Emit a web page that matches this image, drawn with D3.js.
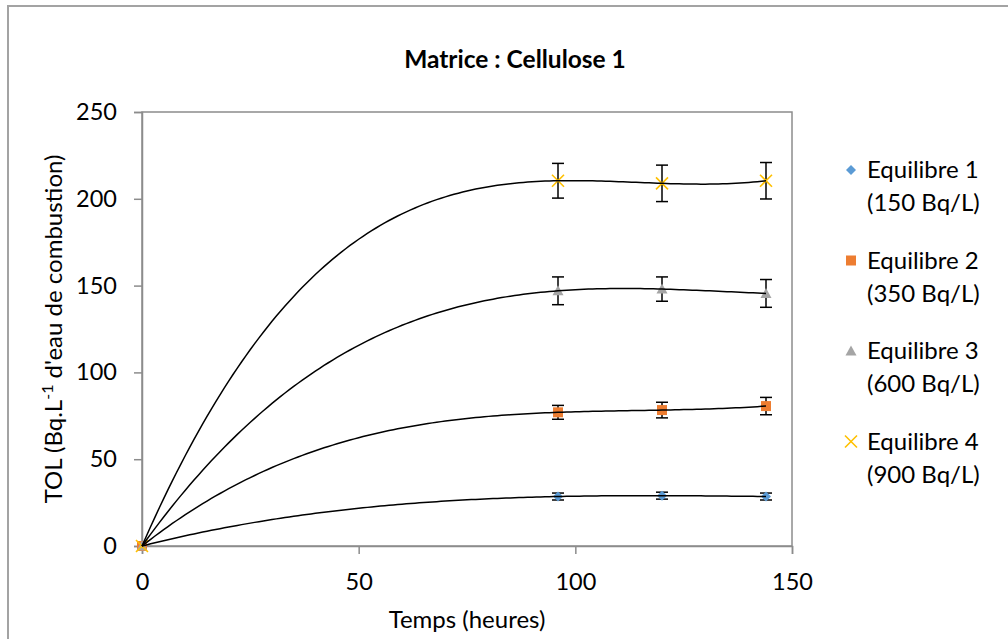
<!DOCTYPE html>
<html><head><meta charset="utf-8">
<script src="https://cdn.jsdelivr.net/npm/d3@7"></script>
<style>
body{margin:0;background:#fff;}
svg text{font-family:Lato,"Liberation Sans",sans-serif;fill:#000;}
</style></head>
<body><svg id="c" width="1008" height="639"></svg>
<script>
const title = "Matrice : Cellulose 1";
const xTitle = "Temps (heures)";
const time = [0, 96, 120, 144];
const eq1 = [0, 28.5, 29, 28.5];
const eq1Err = [0, 2, 2, 2];
const eq2 = [0, 77, 78.3, 80.6];
const eq2Err = [0, 4, 4.5, 5];
const eq3 = [0, 147, 148, 145.5];
const eq3Err = [0, 8, 7, 8];
const eq4 = [0, 210.4, 208.9, 210.4];
const eq4Err = [0, 10, 10.5, 10.5];
const seriesNames = ["Equilibre 1", "Equilibre 2", "Equilibre 3", "Equilibre 4"];
const seriesSub = ["(150 Bq/L)", "(350 Bq/L)", "(600 Bq/L)", "(900 Bq/L)"];
const xTicks = [0, 50, 100, 150];
const yTicks = [0, 50, 100, 150, 200, 250];

const colors = ["#5B9BD5", "#ED7D31", "#A5A5A5", "#FFC000"];
const series = [
  {v: eq1, e: eq1Err}, {v: eq2, e: eq2Err}, {v: eq3, e: eq3Err}, {v: eq4, e: eq4Err}
];

const svg = d3.select("#c");
const L = 142, R = 792, T = 112, B = 546;
const x = d3.scaleLinear().domain([0, 150]).range([L, R]);
const y = d3.scaleLinear().domain([0, 250]).range([B, T]);
const FS = 23.5;

// outer frame
svg.append("rect").attr("x", 8).attr("y", 6).attr("width", 1010).attr("height", 650)
  .attr("fill", "none").attr("stroke", "#a3a3a3").attr("stroke-width", 2);

// plot area border
svg.append("rect").attr("x", L).attr("y", T).attr("width", R - L).attr("height", B - T)
  .attr("fill", "none").attr("stroke", "#8c8c8c").attr("stroke-width", 1.5);

// axes
const gy = svg.append("g").attr("transform", `translate(${L},0)`)
  .call(d3.axisLeft(y).tickValues(yTicks).tickSize(8).tickPadding(17).tickFormat(d3.format("d")));
const gx = svg.append("g").attr("transform", `translate(0,${B})`)
  .call(d3.axisBottom(x).tickValues(xTicks).tickSize(8).tickPadding(19).tickFormat(d3.format("d")));
[gx, gy].forEach(g => {
  g.select(".domain").attr("stroke", "#8c8c8c").attr("stroke-width", 1.5);
  g.selectAll(".tick line").attr("stroke", "#8c8c8c").attr("stroke-width", 1.5);
  g.selectAll(".tick text").attr("font-size", FS).attr("font-family", "Lato").attr("fill", "#000");
});

// cubic polynomial trendline via least squares
function polyFit(xs, ys, deg) {
  const n = deg + 1;
  const A = Array.from({length: n}, () => new Array(n + 1).fill(0));
  for (let k = 0; k < xs.length; k++) {
    for (let i = 0; i < n; i++) {
      for (let j = 0; j < n; j++) A[i][j] += Math.pow(xs[k], i + j);
      A[i][n] += ys[k] * Math.pow(xs[k], i);
    }
  }
  for (let i = 0; i < n; i++) {
    let p = i;
    for (let r = i + 1; r < n; r++) if (Math.abs(A[r][i]) > Math.abs(A[p][i])) p = r;
    [A[i], A[p]] = [A[p], A[i]];
    for (let r = 0; r < n; r++) {
      if (r === i) continue;
      const f = A[r][i] / A[i][i];
      for (let c = i; c <= n; c++) A[r][c] -= f * A[i][c];
    }
  }
  return A.map((row, i) => row[n] / row[i]);
}

const sample = d3.range(0, 144.01, 1);
const line = d3.line().x(d => x(d[0])).y(d => y(d[1]));

const plot = svg.append("g");
series.forEach((s, si) => {
  time.forEach((t, i) => {
    if (!s.e[i]) return;
    const g = plot.append("g").attr("stroke", "#000").attr("stroke-width", 1.5);
    g.append("line").attr("x1", x(t)).attr("x2", x(t)).attr("y1", y(s.v[i] + s.e[i])).attr("y2", y(s.v[i] - s.e[i]));
    g.append("line").attr("x1", x(t) - 6).attr("x2", x(t) + 6).attr("y1", y(s.v[i] + s.e[i])).attr("y2", y(s.v[i] + s.e[i]));
    g.append("line").attr("x1", x(t) - 6).attr("x2", x(t) + 6).attr("y1", y(s.v[i] - s.e[i])).attr("y2", y(s.v[i] - s.e[i]));
  });
});

function marker(g, si, cx, cy) {
  const c = colors[si];
  if (si === 0) {
    g.append("path").attr("d", `M${cx},${cy-5}L${cx+5},${cy}L${cx},${cy+5}L${cx-5},${cy}Z`).attr("fill", c);
  } else if (si === 1) {
    g.append("rect").attr("x", cx - 5).attr("y", cy - 5).attr("width", 10).attr("height", 10).attr("fill", c);
  } else if (si === 2) {
    g.append("path").attr("d", `M${cx},${cy-5.5}L${cx+5.5},${cy+4.5}L${cx-5.5},${cy+4.5}Z`).attr("fill", c);
  } else {
    g.append("path").attr("d", `M${cx-6},${cy-6}L${cx+6},${cy+6}M${cx-6},${cy+6}L${cx+6},${cy-6}`)
      .attr("stroke", c).attr("stroke-width", 1.6).attr("fill", "none");
  }
}

series.forEach((s, si) => {
  time.forEach((t, i) => marker(plot, si, x(t), y(s.v[i])));
});

series.forEach((s, si) => {
  const co = polyFit(time, s.v, 3);
  const pts = sample.map(t => [t, co[0] + co[1] * t + co[2] * t * t + co[3] * t * t * t]);
  plot.append("path").attr("d", line(pts)).attr("fill", "none").attr("stroke", "#000").attr("stroke-width", 1.5);
});

// title
svg.append("text").attr("x", 515).attr("y", 68).attr("text-anchor", "middle")
  .attr("font-size", 24.5).attr("font-weight", "bold").text(title);

// x title
svg.append("text").attr("x", 467).attr("y", 628).attr("text-anchor", "middle")
  .attr("font-size", 24).text(xTitle);

// y title
const yt = svg.append("text").attr("transform", "translate(62,329) rotate(-90)").attr("text-anchor", "middle")
  .attr("font-size", 24);
yt.append("tspan").text("TOL (Bq.L");
yt.append("tspan").attr("dy", -9).attr("font-size", 16).text("-1");
yt.append("tspan").attr("dy", 9).text(" d'eau de combustion)");

// legend
const lg = svg.append("g");
seriesNames.forEach((n, i) => {
  const base = 178 + i * 90.5;
  marker(lg, i, 851, base - 8);
  lg.append("text").attr("x", 867).attr("y", base).attr("font-size", FS + 0.5).text(n);
  lg.append("text").attr("x", 867).attr("y", base + 33).attr("font-size", FS + 0.5).text(seriesSub[i]);
});
</script></body></html>
